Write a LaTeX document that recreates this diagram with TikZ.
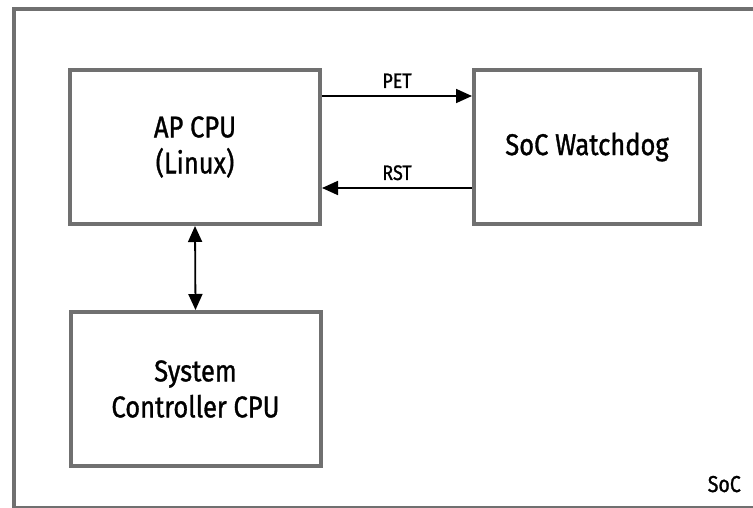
\documentclass[tikz,border=0pt]{standalone}
\usepackage{fontspec}
\setmainfont{Fira Sans}[FakeStretch=0.85,FakeBold=1.1]
\usetikzlibrary{arrows.meta}
\definecolor{edgegray}{RGB}{112,112,112}
\begin{document}
\begin{tikzpicture}[x=1pt,y=-1pt,
  frame/.style={draw=edgegray,line width=4pt},
  block/.style={frame,fill=white,minimum width=250pt,minimum height=154pt,
    inner sep=0pt,align=center,font=\fontsize{30}{36}\selectfont},
  link/.style={draw=black,line width=1.8pt,-{Triangle[length=16pt,width=14pt]}},
  twoway/.style={draw=black,line width=1.8pt,{Triangle[length=16pt,width=14pt]}-{Triangle[length=16pt,width=14pt]}},
  tag/.style={inner sep=0pt,anchor=base,font=\fontsize{21}{25}\selectfont}]
\useasboundingbox (0,0) rectangle (753,508);
\clip (0,0) rectangle (753,508);

% SoC boundary, running past the right edge
\draw[frame] (13.5,9.5) rectangle (780,507.5);
\node[tag,anchor=base east,font=\fontsize{23}{27}\selectfont] (soc) at (741,492) {SoC};

% blocks
\node[block] (ap) at (195,147) {AP CPU\\(Linux)};
\node[block,minimum width=226pt] (wd) at (587,147) {SoC Watchdog};
\node[block] (sc) at (195.5,389) {System\\Controller CPU};

% signal rows
\coordinate (petrow) at (0,96);
\coordinate (rstrow) at (0,188);

\draw[link] (ap.east |- petrow) -- (wd.west |- petrow)
  node[tag,midway,yshift=8pt] (pet) {PET};
\draw[link] (wd.west |- rstrow) -- (ap.east |- rstrow)
  node[tag,midway,yshift=8pt] (rst) {RST};
\draw[twoway] (ap.south) -- (sc.north);
\end{tikzpicture}
\end{document}
